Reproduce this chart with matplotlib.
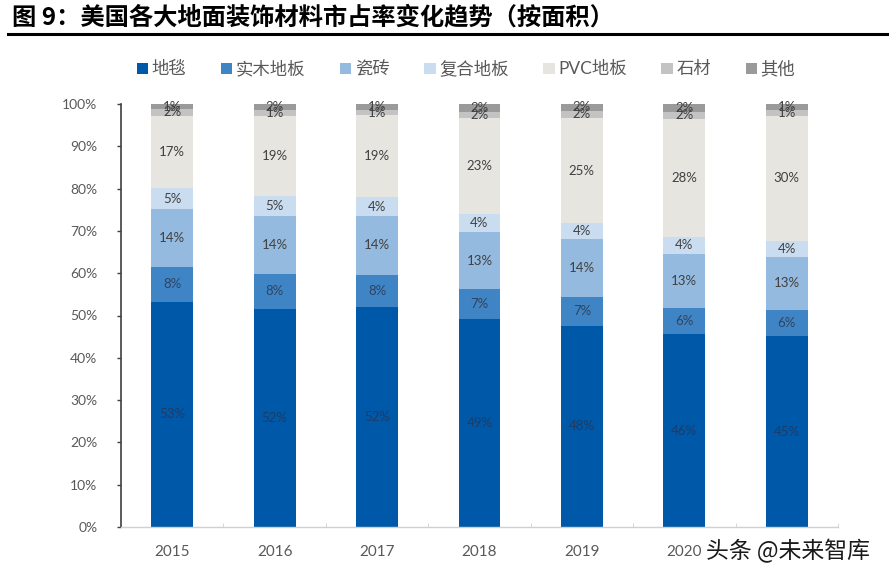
import matplotlib
matplotlib.use("Agg")
import matplotlib.pyplot as plt
from matplotlib.lines import Line2D
import numpy as np

plt.rcParams['font.family'] = ['Lato', 'Noto Sans CJK SC', 'DejaVu Sans']

years = ['2015', '2016', '2017', '2018', '2019', '2020', '2021']
series_names = ['地毯', '实木地板', '瓷砖', '复合地板', 'PVC地板', '石材', '其他']
carpet   = [53.2, 51.6, 51.9, 49.2, 47.6, 45.6, 45.1]
hardwood = [8.3, 8.2, 7.7, 7.1, 6.8, 6.1, 6.2]
ceramic  = [13.7, 13.8, 13.9, 13.4, 13.6, 12.8, 12.6]
laminate = [4.9, 4.6, 4.4, 4.2, 3.8, 4.1, 3.7]
pvc      = [17.1, 18.9, 19.4, 22.7, 24.9, 27.9, 29.6]
stone    = [1.6, 1.4, 1.3, 1.6, 1.7, 1.7, 1.4]
other    = [1.2, 1.6, 1.3, 1.8, 1.6, 1.8, 1.4]
yticks = [0, 10, 20, 30, 40, 50, 60, 70, 80, 90, 100]

colors = ['#0058A8', '#3F85C6', '#95BADF', '#C9DCF0', '#E7E5E0', '#C3C3C3', '#9A9A9A']
label_colors = ['#1F3C66', '#2F4360', '#404040', '#404040', '#404040', '#404040', '#404040']

data = [carpet, hardwood, ceramic, laminate, pvc, stone, other]

fig = plt.figure(figsize=(8.89, 5.8), dpi=100)
ax = fig.add_axes([121/889, 1-527/580, (838-121)/889, (527-104)/580])

x = np.arange(len(years))
bottom = np.zeros(len(years))
handles = []
for vals, name, col, lc in zip(data, series_names, colors, label_colors):
    vals = np.array(vals)
    bars = ax.bar(x, vals, width=0.41, bottom=bottom, color=col, label=name, zorder=2)
    handles.append(bars)
    for xi, b, v in zip(x, bottom, vals):
        ax.text(xi, b + v/2, f'{v:.0f}%', ha='center', va='center',
                fontsize=9.5, color=lc, zorder=3)
    bottom += vals

ax.set_xlim(-0.5, len(years) - 0.5)
ax.set_ylim(0, 100)
ax.set_yticks(yticks)
ax.set_yticklabels([f'{t}%' for t in yticks], fontsize=10, color='#595959')
ax.set_xticks(x)
ax.set_xticklabels(years, fontsize=11, color='#595959')
ax.tick_params(axis='x', length=0, pad=13)
ax.tick_params(axis='y', length=3, width=1, color='#404040', direction='out', pad=14)
ax.set_xticks(np.arange(len(years) + 1) - 0.5, minor=True)
ax.tick_params(axis='x', which='minor', length=3, direction='in', color='#D0D0D0')

for s in ['top', 'right']:
    ax.spines[s].set_visible(False)
ax.spines['left'].set_color('#404040')
ax.spines['left'].set_linewidth(1.2)
ax.spines['bottom'].set_color('#D0D0D0')
ax.spines['bottom'].set_linewidth(1.0)

leg = fig.legend(handles=handles, labels=series_names, loc='center',
                 bbox_to_anchor=(466/889, 1-69/580), ncol=7, frameon=False,
                 fontsize=12.5, handlelength=0.65, handleheight=0.65,
                 handletextpad=0.2, columnspacing=2.0, borderaxespad=0)
for t in leg.get_texts():
    t.set_color('#595959')

fig.text(12/889, 1-17/580, '图 9：美国各大地面装饰材料市占率变化趋势（按面积）',
         fontsize=17.5, fontweight='bold', color='black', ha='left', va='center',
         family=['Noto Sans CJK SC', 'DejaVu Sans'])
fig.add_artist(Line2D([8/889, 1.0], [1-34/580, 1-34/580], color='black', lw=2.2,
                      transform=fig.transFigure))

fig.text(706/889, 1-551/580, '头条 @未来智库', fontsize=16.5, color='#1a1a1a',
         ha='left', va='center', family=['Noto Sans CJK SC', 'DejaVu Sans'],
         bbox=dict(facecolor='white', edgecolor='none', pad=1.5))

fig.savefig('out.png', dpi=100)
